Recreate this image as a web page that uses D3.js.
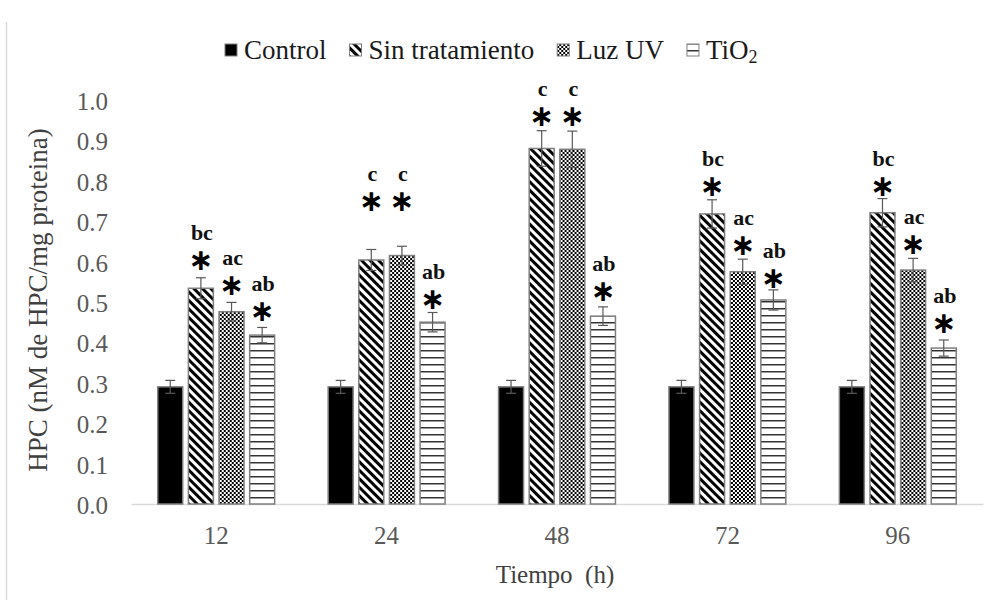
<!DOCTYPE html>
<html><head>
<meta charset="utf-8">
<script src="https://d3js.org/d3.v7.min.js"></script>
<style>
  body { margin: 0; background: #fff; }
  text { font-family: "Liberation Serif", "Times New Roman", serif; }
  .tick text { fill: #595959; font-size: 25px; }
  .domain { stroke: #d9d9d9; }
</style>
</head>
<body>
<svg id="chart" width="995" height="600"></svg>
<script>
// --- data
const times = ["12", "24", "48", "72", "96"];
const seriesNames = ["Control", "Sin tratamiento", "Luz UV", "TiO2"];

const control = [0.290, 0.290, 0.290, 0.290, 0.290];
const sinTrat = [0.534, 0.604, 0.880, 0.718, 0.721];
const luzUV   = [0.476, 0.615, 0.878, 0.575, 0.579];
const tio2    = [0.418, 0.450, 0.465, 0.505, 0.386];

const controlErr = [0.016, 0.016, 0.016, 0.016, 0.016];
const sinErr     = [0.026, 0.026, 0.044, 0.035, 0.035];
const luzErr     = [0.023, 0.023, 0.045, 0.031, 0.029];
const tio2Err    = [0.019, 0.024, 0.023, 0.025, 0.020];

// significance letters and where the asterisk sits (in data units)
const sinLetters  = ["bc", "c", "c", "bc", "bc"];
const luzLetters  = ["ac", "c", "c", "ac", "ac"];
const tio2Letters = ["ab", "ab", "ab", "ab", "ab"];
const sinStar  = [0.606, 0.752, 0.963, 0.790, 0.790];
const luzStar  = [0.545, 0.752, 0.963, 0.644, 0.646];
const tio2Star = [0.480, 0.510, 0.530, 0.562, 0.450];

const yTicks = [0, 0.1, 0.2, 0.3, 0.4, 0.5, 0.6, 0.7, 0.8, 0.9, 1.0];

const values = [control, sinTrat, luzUV, tio2];
const errs = [controlErr, sinErr, luzErr, tio2Err];
const letters = [null, sinLetters, luzLetters, tio2Letters];
const stars = [null, sinStar, luzStar, tio2Star];

const serif = '"Liberation Serif", "Times New Roman", serif';
const svg = d3.select("#chart");

// faint frame line on the left
svg.append("line")
   .attr("x1", 6.5).attr("x2", 6.5).attr("y1", 22).attr("y2", 600)
   .attr("stroke", "#d9d9d9").attr("stroke-width", 1.5);

// --- patterns
const defs = svg.append("defs");

let diag = defs.append("pattern").attr("id", "diag")
   .attr("patternUnits", "userSpaceOnUse")
   .attr("width", 6).attr("height", 6)
   .attr("patternTransform", "rotate(-45)");
diag.append("rect").attr("width", 6).attr("height", 6).attr("fill", "#fff");
diag.append("rect").attr("width", 3).attr("height", 6).attr("fill", "#000");

let check = defs.append("pattern").attr("id", "check")
   .attr("patternUnits", "userSpaceOnUse")
   .attr("width", 4).attr("height", 4);
check.append("rect").attr("width", 4).attr("height", 4).attr("fill", "#fff");
check.append("rect").attr("width", 2).attr("height", 2).attr("fill", "#000");
check.append("rect").attr("x", 2).attr("y", 2).attr("width", 2).attr("height", 2).attr("fill", "#000");

let hlines = defs.append("pattern").attr("id", "hlines")
   .attr("patternUnits", "userSpaceOnUse")
   .attr("width", 7).attr("height", 7);
hlines.append("rect").attr("width", 7).attr("height", 7).attr("fill", "#fff");
hlines.append("rect").attr("y", 0).attr("width", 7).attr("height", 1.5).attr("fill", "#333");

const fills = ["#000", "url(#diag)", "url(#check)", "url(#hlines)"];

// --- scales
const x0 = d3.scaleBand().domain(times).range([131, 983]).paddingInner(0.314).paddingOuter(0.157);
const x1 = d3.scaleBand().domain(d3.range(4)).range([0, x0.bandwidth()]).paddingInner(0.185);
const y = d3.scaleLinear().domain([0, 1]).range([504, 100]);

// y axis labels only
svg.append("g")
   .attr("transform", "translate(108,0)")
   .call(d3.axisLeft(y).tickValues(yTicks).tickFormat(d3.format(".1f")).tickSize(0).tickPadding(0))
   .call(g => g.select(".domain").remove())
   .selectAll("text").attr("dy", "0.38em");

// x axis
svg.append("g")
   .attr("transform", "translate(0,504)")
   .call(d3.axisBottom(x0).tickSize(0).tickPadding(22))
   .call(g => g.select(".domain").attr("stroke-width", 1.5))
   .selectAll("text").attr("dy", "0.71em");

// --- bars
const groups = svg.append("g").selectAll("g")
   .data(times).join("g")
   .attr("transform", d => `translate(${x0(d)},0)`);

groups.each(function(t, ti) {
  const g = d3.select(this);
  for (let s = 0; s < 4; s++) {
    const v = values[s][ti];
    const bx = x1(s);
    const bw = x1.bandwidth();
    g.append("rect")
     .attr("x", bx).attr("y", y(v))
     .attr("width", bw).attr("height", y(0) - y(v))
     .attr("fill", fills[s])
     .attr("stroke", "#7f7f7f").attr("stroke-width", 1.5);

    // error bar
    const e = errs[s][ti];
    const cx = bx + bw / 2;
    g.append("line").attr("x1", cx).attr("x2", cx)
     .attr("y1", y(v + e)).attr("y2", y(v - e))
     .attr("stroke", "#595959").attr("stroke-width", 1.2);
    [v + e, v - e].forEach(val => {
      g.append("line").attr("x1", cx - 5).attr("x2", cx + 5)
       .attr("y1", y(val)).attr("y2", y(val))
       .attr("stroke", "#595959").attr("stroke-width", 1.2);
    });

    // asterisk + letters
    if (stars[s]) {
      const sy = y(stars[s][ti]);
      g.append("text")
       .attr("x", cx).attr("y", sy)
       .attr("text-anchor", "middle").attr("dy", "0.36em")
       .style("font-family", "DejaVu Sans")
       .style("font-size", "30px").style("font-weight", "bold")
       .text("∗");
      g.append("text")
       .attr("x", cx + 1).attr("y", sy - 19)
       .attr("text-anchor", "middle")
       .style("font-family", serif)
       .style("font-size", "22px").style("font-weight", "bold")
       .attr("fill", "#111")
       .text(letters[s][ti]);
    }
  }
});

// --- legend
const legend = svg.append("g").attr("transform", "translate(225,50)");
let lx = 0;
seriesNames.forEach((name, i) => {
  const item = legend.append("g").attr("transform", `translate(${lx},0)`);
  item.append("rect").attr("x", 0).attr("y", -6).attr("width", 12).attr("height", 12)
      .attr("fill", fills[i]).attr("stroke", "#7f7f7f").attr("stroke-width", 1);
  const txt = item.append("text").attr("x", 19).attr("y", 9)
      .style("font-family", serif)
      .style("font-size", "27px").attr("fill", "#1a1a1a");
  if (name === "TiO2") {
    txt.append("tspan").text("TiO");
    txt.append("tspan").attr("dy", 4).style("font-size", "18px").text("2");
  } else {
    txt.text(name);
  }
  lx += 19 + txt.node().getComputedTextLength() + 23;
});

// --- axis titles
svg.append("text")
   .attr("x", 555).attr("y", 583)
   .attr("text-anchor", "middle")
   .style("font-family", serif)
   .style("font-size", "25px").style("white-space", "pre")
   .attr("fill", "#404040")
   .text("Tiempo  (h)");

svg.append("text")
   .attr("transform", "translate(47,300) rotate(-90)")
   .attr("text-anchor", "middle")
   .style("font-family", serif)
   .style("font-size", "27px")
   .attr("fill", "#404040")
   .text("HPC (nM de HPC/mg proteina)");
</script>
</body>
</html>
